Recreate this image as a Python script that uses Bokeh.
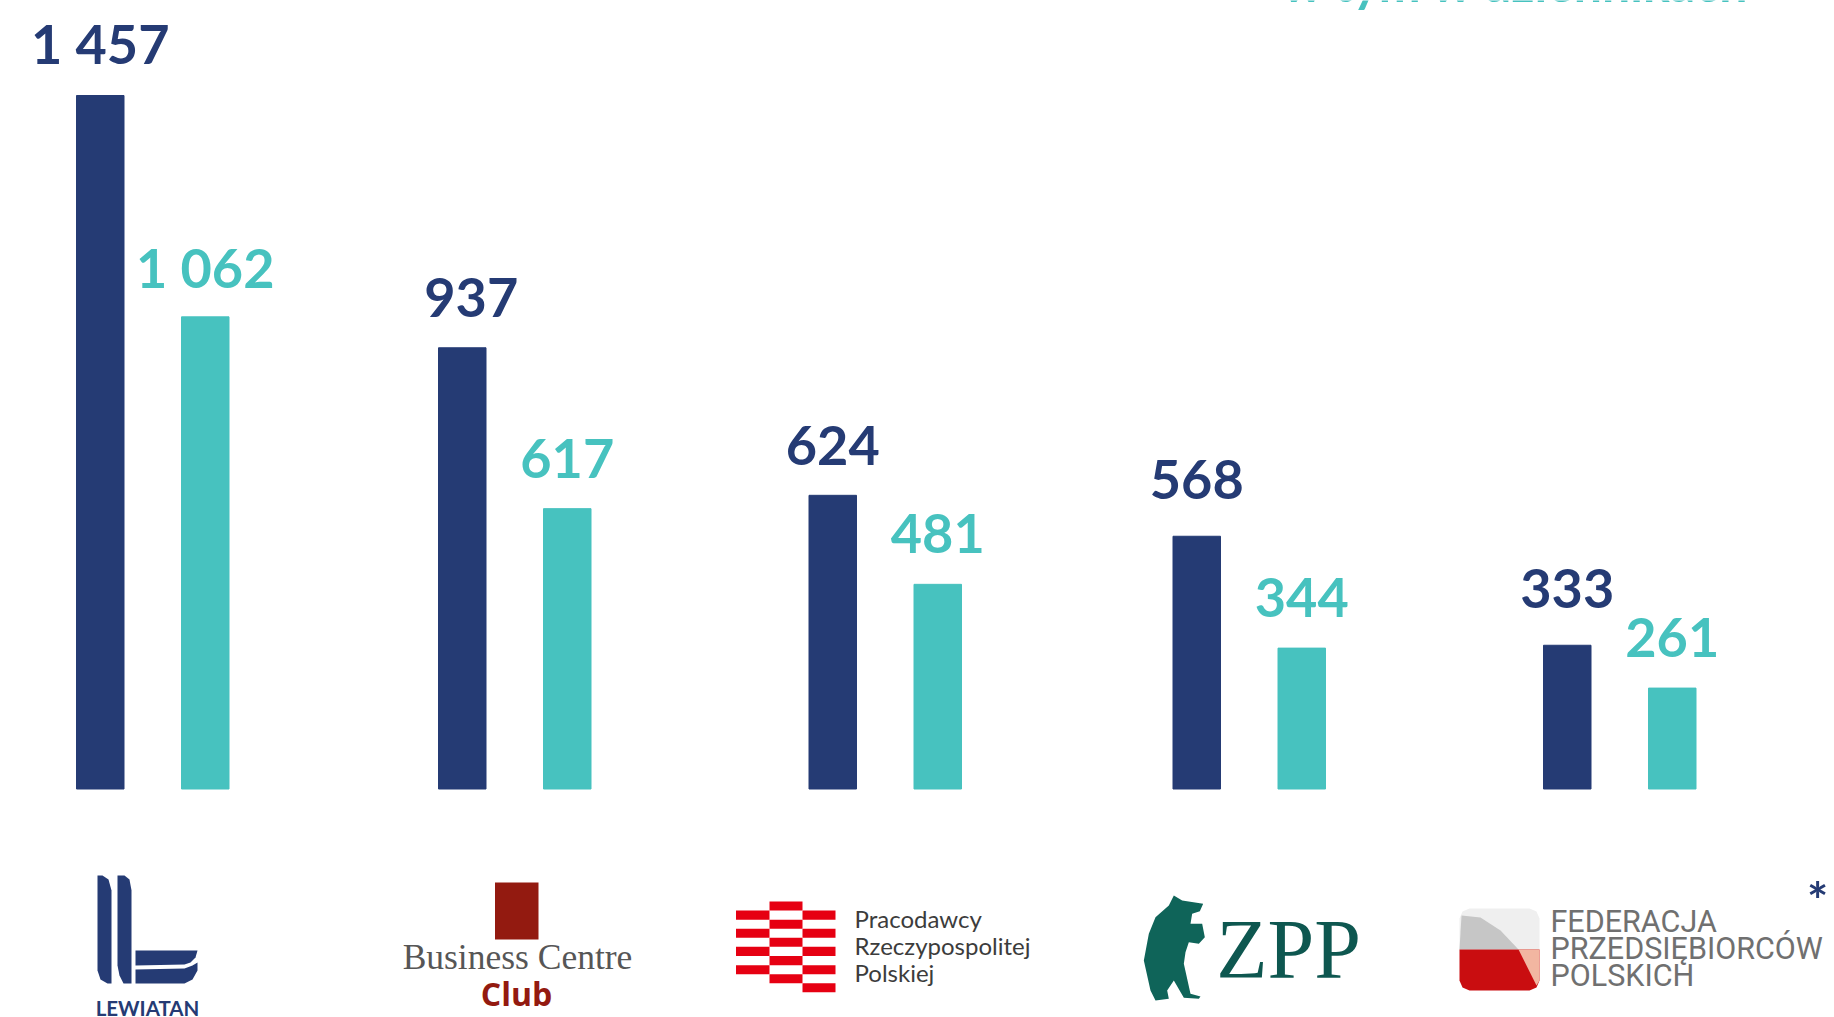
from bokeh.plotting import figure, ColumnDataSource
from bokeh.embed import file_html
from bokeh.resources import INLINE
from bokeh.core.properties import value
from bokeh.models import Range1d

# --- data -----------------------------------------------------------------
organisations = ["Lewiatan", "Business Centre Club", "Pracodawcy RP", "ZPP", "FPP"]
total_labels = ["1 457", "937", "624", "568", "333"]
dailies_labels = ["1 062", "617", "481", "344", "261"]
# The reference's bars are not drawn in proportion to their printed numbers:
# these are the lengths, in units of the tallest bar.
total_drawn = [1457, 927, 617, 531, 302]
dailies_drawn = [992, 589, 430, 296, 212]
legend_text = "w tym w dziennikach"

# --- layout ---------------------------------------------------------------
NAVY, TEAL = "#253b74", "#47c2bf"
W, H, BASE, K = 1834, 1017, 788.5, 693.5 / 1457
group_left = [76, 438, 808.5, 1172.5, 1543]
BAR_W = 47.5
TEAL_SHIFT = 105
total_gap = [31, 29, 28.5, 35.5, 35.5]
dailies_gap = [28.5, 29, 29.5, 29.5, 29.5]
total_nudge = [0, 9, 0, 0, 0]
dailies_nudge = [0, 0, 0, 0, 0]
LIFT = 0.40  # em: the SVG backend sets "alphabetic" text lower than its baseline

p = figure(width=W, height=H, output_backend="svg", toolbar_location=None,
           x_range=Range1d(0, W), y_range=Range1d(-(H - BASE) / K, BASE / K),
           min_border=0, outline_line_color=None, background_fill_color="white",
           border_fill_color="white")
p.axis.visible = False
p.grid.visible = False


def Y(py):
    return (BASE - py) / K


def bars(lefts, drawn, labels, gaps, nudges, color, font, style, size):
    centers = [l + BAR_W / 2 for l in lefts]
    src = ColumnDataSource(dict(x=centers, top=drawn, label=labels,
                                dy=[-(g + LIFT * 53) for g in gaps], dx=nudges))
    p.vbar(x="x", top="top", bottom=0, width=BAR_W, color=color, source=src)
    p.text(x="x", y="top", text="label", x_offset="dx", y_offset="dy", source=src,
           text_color=color, text_font=value(font), text_font_size=f"{size}px",
           text_font_style=style, text_align="center", text_baseline="alphabetic")


bars(group_left, total_drawn, total_labels, total_gap, total_nudge, NAVY, "Lato", "bold", 54)
bars([l + TEAL_SHIFT for l in group_left], dailies_drawn, dailies_labels,
     dailies_gap, dailies_nudge, TEAL, "Lato", "bold", 54)


def txt(x, py, s, color, font, size, style="normal", align="left"):
    p.text(x=[x], y=[Y(py - LIFT * size)], text=[s], text_color=color, text_font=value(font),
           text_font_size=f"{size}px", text_font_style=style, text_align=align,
           text_baseline="alphabetic")


def poly(pts, color):
    p.patch([a for a, _ in pts], [Y(b) for _, b in pts], fill_color=color, line_color=None)


def box(x0, y0, x1, y1, color):
    poly([(x0, y0), (x1, y0), (x1, y1), (x0, y1)], color)


# legend line, cut by the top edge
txt(1516, 2, legend_text, TEAL, "Lato", 50, "bold", align="center")

# Lewiatan logo
poly([(97, 875), (102, 875), (108, 879), (111, 890), (111, 983), (107, 983), (100, 979), (97, 970)], NAVY)
poly([(117, 875), (124, 875), (129, 879), (131, 890), (131, 983), (123, 983), (119, 975), (117, 965)], NAVY)
poly([(135, 950), (197, 950), (195, 957), (190, 962), (184, 964), (135, 965)], NAVY)
poly([(135, 969), (184, 968), (192, 965), (197, 962), (197, 970), (192, 979), (184, 983), (135, 983)], NAVY)
txt(147, 1016, "LEWIATAN", NAVY, "Lato", 20.5, "bold", "center")

# Business Centre Club logo
box(494.5, 882, 538, 939, "#931a10")
txt(517, 971, "Business Centre", "#565656", "Liberation Serif", 35.5, align="center")
txt(516, 1005.5, "Club", "#931a10", "Open Sans", 32, "bold", "center")

# Pracodawcy RP logo
RED = "#e60012"
rows = [901, 910, 919.2, 928.3, 937.3, 946.3, 955.6, 964.7, 973.7, 982.7, 991.7]
cols = [735.5, 769, 802, 835]
for i in range(0, 10):
    if i % 2 == 0 and i < 9:
        box(cols[1], rows[i], cols[2], rows[i + 1], RED)
    if i % 2 == 1:
        box(cols[2], rows[i], cols[3], rows[i + 1], RED)
        if i < 9:
            box(cols[0], rows[i], cols[1], rows[i + 1], RED)
for py, s in zip([928, 955, 981.5], ["Pracodawcy", "Rzeczypospolitej", "Polskiej"]):
    txt(854, py, s, "#3c3c3c", "Lato", 24)

# ZPP logo
GREEN = "#0f6459"
bear = [(100, 45), (125, 60), (188, 70), (178, 92), (155, 100), (150, 130), (185, 130), (193, 170),
        (175, 190), (145, 185), (135, 215), (130, 250), (150, 340), (180, 348), (175, 355), (130, 352),
        (100, 300), (80, 330), (85, 355), (45, 360), (30, 330), (10, 240), (25, 160), (45, 110), (85, 75)]
poly([(1140 + a / 3, 880 + b / 3) for a, b in bear], GREEN)
txt(1288, 983, "ZPP", "#0e5750", "Liberation Serif", 84, align="center")

# FPP logo
poly([(1459, 918), (1462, 911), (1469, 908), (1529, 908), (1536, 911), (1539, 918), (1539, 950), (1459, 950)], "#efefef")
poly([(1461, 915), (1480, 917), (1500, 930), (1518, 949), (1459, 949)], "#c6c6c6")
poly([(1459, 949), (1539, 949), (1539, 980), (1536, 987), (1529, 990), (1469, 990), (1462, 987), (1459, 980)], "#c90d10")
poly([(1518, 949), (1539, 949), (1539, 980), (1536, 985), (1535, 983)], "#f2b6a1")
for py, s in zip([933.5, 960.5, 987], ["FEDERACJA", "PRZEDSIĘBIORCÓW", "POLSKICH"]):
    txt(1550, py, s, "#707070", "Roboto", 30.5)
txt(1817, 919, "*", NAVY, "Lato", 50, "bold", "center")

open("out.html", "w").write(file_html(p, INLINE))
